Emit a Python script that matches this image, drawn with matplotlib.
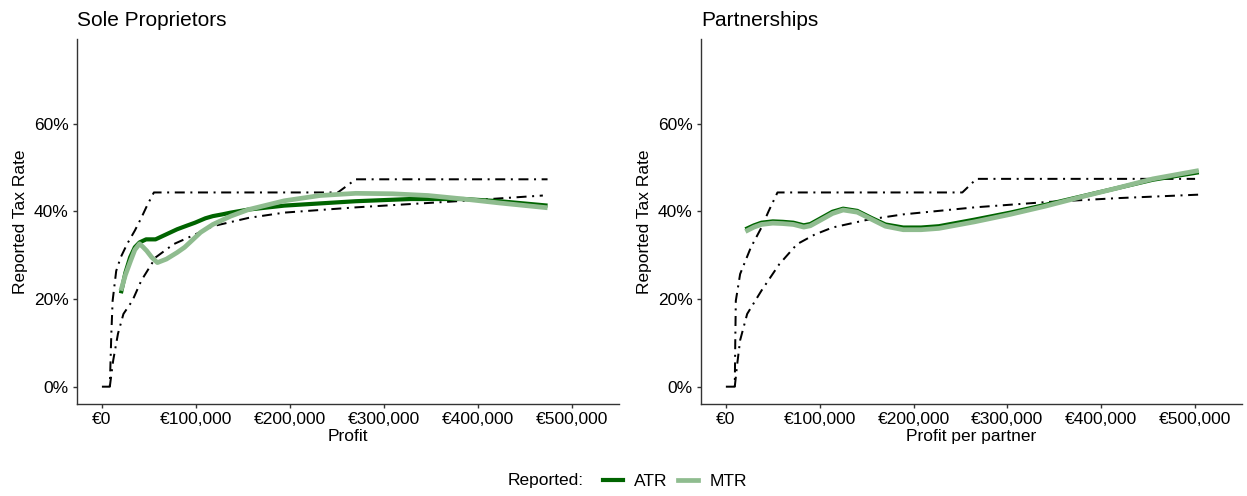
import matplotlib
matplotlib.use("Agg")
import matplotlib.pyplot as plt
from matplotlib.ticker import FuncFormatter
from matplotlib.lines import Line2D

plt.rcParams['font.family'] = ['Liberation Sans', 'DejaVu Sans']

# ---- data (profit in thousands of euro, rates in %) ----
titles = ["Sole Proprietors", "Partnerships"]
xlabels = ["Profit", "Profit per partner"]

# sole proprietors
sp_atr_x = [20.2, 25, 30, 35, 40, 47, 57, 68, 80, 90, 99, 110, 118, 128, 137, 156, 194, 232, 270, 328, 385, 423, 474]
sp_atr_y = [21.3, 26, 29.5, 31.8, 32.9, 33.6, 33.6, 34.7, 35.9, 36.7, 37.4, 38.4, 38.9, 39.3, 39.7, 40.4, 41.3, 41.8, 42.3, 42.8, 42.8, 42.3, 41.3]
sp_mtr_x = [20.2, 25, 30.5, 35, 40, 44, 47.6, 53, 59, 68.6, 80, 88, 95, 105, 118, 137, 156, 194, 232, 270, 309, 347, 385, 423, 474]
sp_mtr_y = [21.9, 25.5, 28.7, 31.2, 32.6, 31.8, 31.0, 29.5, 28.3, 29.1, 30.6, 31.8, 33.2, 35.2, 37.0, 38.9, 40.4, 42.4, 43.6, 44.1, 44.0, 43.6, 42.8, 41.9, 40.8]
sp_stat_mtr_x = [0, 8.4, 10, 11.4, 15.2, 20, 26.7, 35, 41.9, 48, 55.3, 251, 270, 474]
sp_stat_mtr_y = [0, 0, 12, 19.6, 26.4, 29.5, 32.5, 35.6, 38.5, 41.3, 44.3, 44.3, 47.3, 47.3]
sp_stat_atr_x = [8.4, 12, 17.1, 22.9, 32.4, 41.9, 57.2, 76.2, 99, 118, 156, 194, 270, 347, 385, 469]
sp_stat_atr_y = [0, 6, 12.1, 16.6, 19.6, 24.2, 29.5, 32.5, 34.7, 36.6, 38.5, 39.7, 40.9, 41.9, 42.4, 43.6]

# partnerships
pt_atr_x = [20.8, 30, 37.9, 50, 60.6, 72, 83, 90, 98.5, 113.6, 125, 140, 155, 170, 189, 208, 227, 265, 303, 341, 379, 417, 455, 504]
pt_atr_y = [35.9, 36.8, 37.4, 37.7, 37.6, 37.4, 36.8, 37.1, 38.1, 39.9, 40.6, 40.1, 38.5, 37.0, 36.3, 36.3, 36.6, 38.1, 39.7, 41.5, 43.4, 45.3, 47.2, 48.9]
pt_mtr_x = pt_atr_x
pt_mtr_y = [35.4, 36.4, 37.0, 37.3, 37.2, 37.0, 36.4, 36.7, 37.7, 39.5, 40.3, 39.8, 38.2, 36.6, 35.8, 35.8, 36.1, 37.6, 39.3, 41.2, 43.3, 45.3, 47.4, 49.3]
pt_stat_mtr_x = [0, 9.5, 10, 10.6, 15.2, 26.5, 37.9, 45.5, 55, 252, 267, 500]
pt_stat_mtr_y = [0, 0, 10, 19.6, 25.7, 31.7, 36.3, 40, 44.3, 44.3, 47.4, 47.4]
pt_stat_atr_x = [9.5, 12, 15.2, 22.7, 37.9, 56.8, 75.8, 94.7, 113.6, 151.5, 189, 265, 341, 417, 504]
pt_stat_atr_y = [0, 5, 10.6, 16.6, 21.9, 27.9, 32.5, 34.7, 36.3, 38.1, 39.3, 40.9, 42.1, 43.0, 43.8]

panels = [
    (sp_atr_x, sp_atr_y, sp_mtr_x, sp_mtr_y, sp_stat_mtr_x, sp_stat_mtr_y, sp_stat_atr_x, sp_stat_atr_y),
    (pt_atr_x, pt_atr_y, pt_mtr_x, pt_mtr_y, pt_stat_mtr_x, pt_stat_mtr_y, pt_stat_atr_x, pt_stat_atr_y),
]

dark = "#006400"
light = "#8fbc8f"
axcol = "#333333"
dashdot = (0, (5, 2.8, 1, 2.8))

fig = plt.figure(figsize=(12.47, 4.96), dpi=100)
rects = [[77 / 1247, 92 / 496, 542 / 1247, 365 / 496],
         [701 / 1247, 92 / 496, 541 / 1247, 365 / 496]]

eur = FuncFormatter(lambda v, p: "€0" if v == 0 else "€{:,.0f}".format(v * 1000))
pct = FuncFormatter(lambda v, p: "{:.0f}%".format(v))

for i, r in enumerate(rects):
    ax = fig.add_axes(r)
    ax_x, ax_y, mt_x, mt_y, sm_x, sm_y, sa_x, sa_y = panels[i]
    ax.plot(sm_x, sm_y, color="black", lw=1.44, linestyle=dashdot)
    ax.plot(sa_x, sa_y, color="black", lw=1.44, linestyle=dashdot)
    ax.plot(ax_x, ax_y, color=dark, lw=3.0, solid_capstyle="butt")
    ax.plot(mt_x, mt_y, color=light, lw=3.4, solid_capstyle="butt")

    ax.set_xlim(-26.5, 550)
    ax.set_ylim(-3.95, 79.3)
    ax.set_xticks([0, 100, 200, 300, 400, 500])
    ax.set_yticks([0, 20, 40, 60])
    ax.xaxis.set_major_formatter(eur)
    ax.yaxis.set_major_formatter(pct)
    for s in ["top", "right"]:
        ax.spines[s].set_visible(False)
    for s in ["left", "bottom"]:
        ax.spines[s].set_color(axcol)
        ax.spines[s].set_linewidth(1.0)
    ax.tick_params(axis="both", colors=axcol, length=3, width=1.0, labelsize=12.5,
                   labelcolor="black", pad=3)
    ax.set_xlabel(xlabels[i], fontsize=12.5, labelpad=1)
    ax.set_ylabel("Reported Tax Rate", fontsize=12.5, labelpad=4)
    ax.set_title(titles[i], fontsize=15, loc="left", pad=9, x=0.0)

handles = [Line2D([], [], color=dark, lw=3.0), Line2D([], [], color=light, lw=3.4)]
fig.text(508 / 1247, 15 / 496, "Reported:", fontsize=12.5, va="center")
fig.legend(handles, ["ATR", "MTR"], loc="center left", bbox_to_anchor=(603 / 1247, 15 / 496),
           ncol=2, frameon=False, fontsize=12.5, handlelength=1.15, handletextpad=0.65,
           columnspacing=0.6, borderpad=0.0, borderaxespad=0.0)

fig.savefig("out.png", dpi=100)
